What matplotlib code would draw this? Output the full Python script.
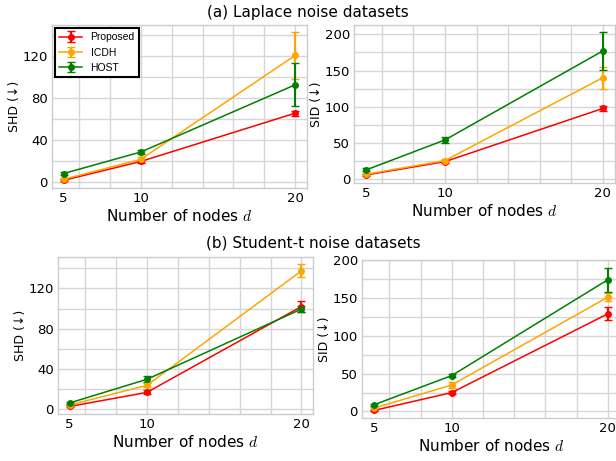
import matplotlib
matplotlib.use("Agg")
import matplotlib.pyplot as plt
import numpy as np

plt.rcParams['mathtext.fontset'] = 'cm'
plt.rcParams['font.family'] = 'DejaVu Sans'

nodes = [5, 10, 20]
methods = ['Proposed', 'ICDH', 'HOST']
colors = ['red', 'orange', 'green']

# (a) Laplace noise
laplace_shd = [[2, 20, 66], [3, 22, 121], [8.5, 29, 93]]
laplace_shd_err = [[1, 1.5, 2.5], [1, 2, 22], [1, 2, 20.5]]
laplace_sid = [[5.5, 24, 97.5], [6.5, 25.5, 140], [12.5, 54, 177]]
laplace_sid_err = [[1, 1.5, 3.5], [1, 2, 15], [2, 4, 26]]

# (b) Student-t noise
student_shd = [[2.5, 16.5, 102], [4, 23.5, 137.5], [6, 29.5, 99.5]]
student_shd_err = [[1, 2, 5], [1, 2, 6.5], [1, 3, 3]]
student_sid = [[1.3, 25, 129], [4.3, 35, 151], [8.7, 47.4, 174]]
student_sid_err = [[1, 1.5, 8.5], [1, 4, 5], [1.5, 2, 16]]

W, H = 616, 461
fig = plt.figure(figsize=(W / 100, H / 100), dpi=100)


def px_axes(l, t, r, b):
    return fig.add_axes([l / W, 1 - b / H, (r - l) / W, (b - t) / H])


def draw(ax, vals, errs, ylabel, ymajor, yminor, legend=False):
    for m, c, v, e in zip(methods, colors, vals, errs):
        ax.errorbar(nodes, v, yerr=e, color=c, label=m, marker='o', ms=4,
                    lw=1.1, elinewidth=1.5, capsize=3, capthick=1)
    ax.set_xlim(4.25, 20.75)
    ax.set_xticks(nodes)
    ax.set_xticks(np.arange(6, 21, 2), minor=True)
    ax.xaxis.remove_overlapping_locs = False
    ax.set_yticks(ymajor)
    ax.set_yticks(yminor, minor=True)
    ax.yaxis.remove_overlapping_locs = False
    ax.tick_params(which='both', length=0, labelsize=9.5, pad=3)
    ax.grid(False, axis='x', which='major')
    ax.grid(True, axis='x', which='minor', color='#d6d6d6', lw=1)
    ax.grid(True, axis='y', which='both', color='#d6d6d6', lw=1)
    ax.set_axisbelow(True)
    for s in ax.spines.values():
        s.set_color('#cccccc')
        s.set_linewidth(1)
    ax.set_xlabel('Number of nodes $d$', fontsize=11, labelpad=2)
    ax.set_ylabel(ylabel, fontsize=9, labelpad=1)
    if legend:
        leg = ax.legend(loc='upper left', fancybox=False, framealpha=1,
                        edgecolor='black', prop={'family': 'Liberation Sans', 'size': 7.5},
                        borderaxespad=0.3, handlelength=2.2)
        leg.get_frame().set_linewidth(1.5)


ax1 = px_axes(52, 25, 306.7, 187.7)
draw(ax1, laplace_shd, laplace_shd_err, 'SHD (↓)', [0, 40, 80, 120],
     [20, 60, 100, 140], legend=True)
ax1.set_ylim(-5, 150)

ax2 = px_axes(354.3, 25, 614.5, 183.3)
draw(ax2, laplace_sid, laplace_sid_err, 'SID (↓)', [0, 50, 100, 150, 200],
     [25, 75, 125, 175])
ax2.set_ylim(-6, 213)

ax3 = px_axes(58, 257.3, 313, 414)
draw(ax3, student_shd, student_shd_err, 'SHD (↓)', [0, 40, 80, 120],
     [20, 60, 100, 140])
ax3.set_ylim(-5, 151)

ax4 = px_axes(362, 260, 619.6, 418.3)
draw(ax4, student_sid, student_sid_err, 'SID (↓)', [0, 50, 100, 150, 200],
     [25, 75, 125, 175])
ax4.set_ylim(-9, 200)

fig.text(308 / W, 1 - 12 / H, '(a) Laplace noise datasets', ha='center', va='center', fontsize=11)
fig.text(313 / W, 1 - 243 / H, '(b) Student-t noise datasets', ha='center', va='center', fontsize=11)

fig.savefig('out.png', dpi=100)
